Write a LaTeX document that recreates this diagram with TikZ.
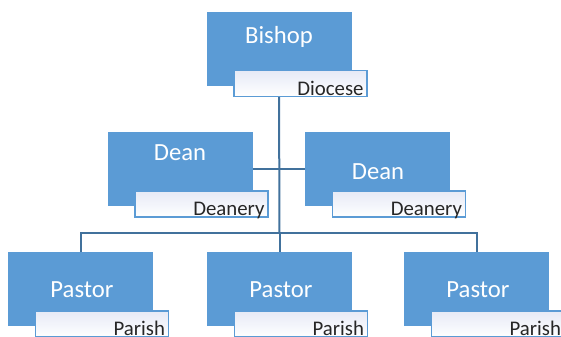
\documentclass[tikz,border=0pt]{standalone}
\usepackage{fontspec}
\setmainfont{Carlito}
\usetikzlibrary{backgrounds}
\definecolor{boxblue}{HTML}{5B9BD5}
\definecolor{linkblue}{HTML}{41719C}
\definecolor{lblfill}{HTML}{E6EAF6}
\begin{document}
\begin{tikzpicture}[x=0.75pt,y=-0.75pt,
  role/.style={fill=boxblue,minimum width=108.75pt,minimum height=55.5pt,inner sep=0pt},
  unit/.style={draw=boxblue,line width=1.1pt,top color=lblfill,bottom color=white,
    minimum width=99.75pt,minimum height=19.5pt,inner sep=0pt,
    anchor=north east,xshift=12pt,yshift=12pt},
  roletxt/.style={text=white,inner sep=0pt,font=\fontsize{18.5}{20}\selectfont},
  unittxt/.style={text=black!85,inner sep=0pt,anchor=base east,
    xshift=-3pt,yshift=1.5pt,font=\fontsize{15.6}{18}\selectfont},
  link/.style={draw=linkblue,line width=1.5pt}]
\clip (0,0) rectangle (561,336);

% top level
\node[role] (bishop) at (279,48.5) {};
\node[unit] (diocese) at (bishop.south east) {};
\node[roletxt] (bishoptxt) at (279,37) {Bishop};
\node[unittxt] (diocesetxt) at (diocese.south east) {Diocese};

% deans
\node[role] (deanL) at (180,169) {};
\node[unit] (deaneryL) at (deanL.south east) {};
\node[roletxt] (deanLtxt) at (180,153) {Dean};
\node[unittxt] (deaneryLtxt) at (deaneryL.south east) {Deanery};

\node[role] (deanR) at (377.5,169) {};
\node[unit] (deaneryR) at (deanR.south east) {};
\node[roletxt] (deanRtxt) at (378,172) {Dean};
\node[unittxt] (deaneryRtxt) at (deaneryR.south east) {Deanery};

% pastors
\foreach \x/\n in {80.5/1,279.5/2,476.5/3}
{
  \node[role] (pastor\n) at (\x,289) {};
  \node[unit] (parish\n) at (pastor\n.south east) {};
  \node[roletxt] (pastor\n txt) at (\x+1.5,290) {Pastor};
  \node[unittxt] (parish\n txt) at (parish\n.south east) {Parish};
}

\coordinate (bar) at (279.5,233);
\begin{scope}[on background layer]
\draw[link] (bishop.south) -- (bar);
\draw[link] (deanL.east) -- (deanR.west);
\draw[link] (pastor1.north) |- (bar) -| (pastor3.north);
\draw[link] (bar) -- (pastor2.north);
\end{scope}
\end{tikzpicture}
\end{document}
